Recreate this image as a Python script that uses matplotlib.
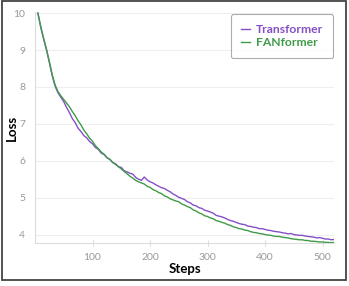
import matplotlib
matplotlib.use("Agg")
import matplotlib.pyplot as plt
from matplotlib.patches import Rectangle

# training steps, one point every 5 steps
steps = list(range(5, 525, 5))

transformer_loss = [
    10.0, 9.62, 9.30, 9.00, 8.66, 8.30, 8.02, 7.84, 7.72, 7.60,
    7.44, 7.30, 7.14, 7.03, 6.88, 6.79, 6.68, 6.62, 6.52, 6.46,
    6.36, 6.31, 6.21, 6.17, 6.08, 6.04, 5.95, 5.92, 5.84, 5.82,
    5.73, 5.70, 5.66, 5.64, 5.55, 5.50, 5.47, 5.56, 5.48, 5.43,
    5.40, 5.35, 5.31, 5.27, 5.25, 5.20, 5.16, 5.10, 5.06, 5.01,
    4.98, 4.95, 4.89, 4.86, 4.80, 4.78, 4.73, 4.71, 4.66, 4.64,
    4.61, 4.58, 4.52, 4.50, 4.48, 4.45, 4.41, 4.38, 4.36, 4.33,
    4.30, 4.28, 4.27, 4.23, 4.22, 4.20, 4.19, 4.16, 4.16, 4.14,
    4.12, 4.11, 4.09, 4.08, 4.07, 4.05, 4.04, 4.02, 4.03, 4.00,
    3.99, 3.98, 3.98, 3.96, 3.95, 3.94, 3.93, 3.91, 3.92, 3.90,
    3.88, 3.88, 3.86, 3.87,
]

fanformer_loss = [
    10.0, 9.63, 9.31, 9.02, 8.68, 8.33, 8.05, 7.87, 7.76, 7.66,
    7.56, 7.46, 7.33, 7.22, 7.08, 6.97, 6.83, 6.73, 6.61, 6.53,
    6.41, 6.33, 6.24, 6.18, 6.09, 6.04, 5.96, 5.90, 5.84, 5.78,
    5.71, 5.65, 5.58, 5.53, 5.47, 5.43, 5.40, 5.37, 5.31, 5.28,
    5.22, 5.19, 5.14, 5.11, 5.05, 5.02, 4.97, 4.94, 4.91, 4.89,
    4.83, 4.80, 4.76, 4.73, 4.67, 4.64, 4.59, 4.56, 4.51, 4.49,
    4.45, 4.43, 4.38, 4.36, 4.33, 4.31, 4.27, 4.25, 4.21, 4.19,
    4.16, 4.15, 4.12, 4.11, 4.08, 4.06, 4.05, 4.03, 4.02, 4.00,
    3.99, 3.98, 3.96, 3.95, 3.95, 3.93, 3.92, 3.91, 3.89, 3.88,
    3.87, 3.86, 3.86, 3.84, 3.84, 3.82, 3.82, 3.81, 3.80, 3.80,
    3.79, 3.79, 3.78, 3.79,
]

PURPLE = "#8550c6"
GREEN = "#3f9b48"

plt.rcParams["font.family"] = ["Lato", "DejaVu Sans"]

fig = plt.figure(figsize=(3.49, 2.86), dpi=100)
ax = fig.add_axes([0.1003, 0.150, 0.857, 0.808])

ax.plot(steps, transformer_loss, color=PURPLE, lw=1.0, label="Transformer")
ax.plot(steps, fanformer_loss, color=GREEN, lw=1.0, label="FANformer")

ax.set_xlim(0, 520)
ax.set_ylim(3.77, 10.03)
ax.set_xticks([100, 200, 300, 400, 500])
ax.set_yticks([4, 5, 6, 7, 8, 9, 10])
ax.grid(axis="y", color="#eeeeee", lw=0.8)
ax.set_axisbelow(True)

for side in ("top", "right"):
    ax.spines[side].set_visible(False)
for side in ("left", "bottom"):
    ax.spines[side].set_color("#dddddd")
    ax.spines[side].set_linewidth(0.8)

ax.tick_params(axis="x", labelcolor="#999999", color="#dddddd", labelsize=7.5,
               length=4, direction="inout", width=0.8, pad=5)
ax.tick_params(axis="y", labelcolor="#999999", labelsize=7.5, length=0, pad=7)

ax.set_xlabel("Steps", fontsize=9.5, fontweight="bold", labelpad=1)
ax.set_ylabel("Loss", fontsize=9.5, fontweight="bold")
ax.yaxis.set_label_coords(-0.058, 0.5)

leg = ax.legend(loc="upper right", bbox_to_anchor=(0.997, 0.99),
                fontsize=8.7, handlelength=0.8, handletextpad=0.5,
                labelspacing=0.2, borderpad=0.8, borderaxespad=0,
                frameon=True, fancybox=True)
leg.get_frame().set_edgecolor("#999999")
leg.get_frame().set_linewidth(0.8)
for txt, c in zip(leg.get_texts(), [PURPLE, GREEN]):
    txt.set_color(c)
    txt.set_fontweight("bold")

# outer frame around the figure
fig.patches.append(Rectangle((0.005, 0.021), 0.986, 0.974, transform=fig.transFigure,
                             fill=False, edgecolor="#444444", lw=1.3))

fig.savefig("out.png", dpi=100)
